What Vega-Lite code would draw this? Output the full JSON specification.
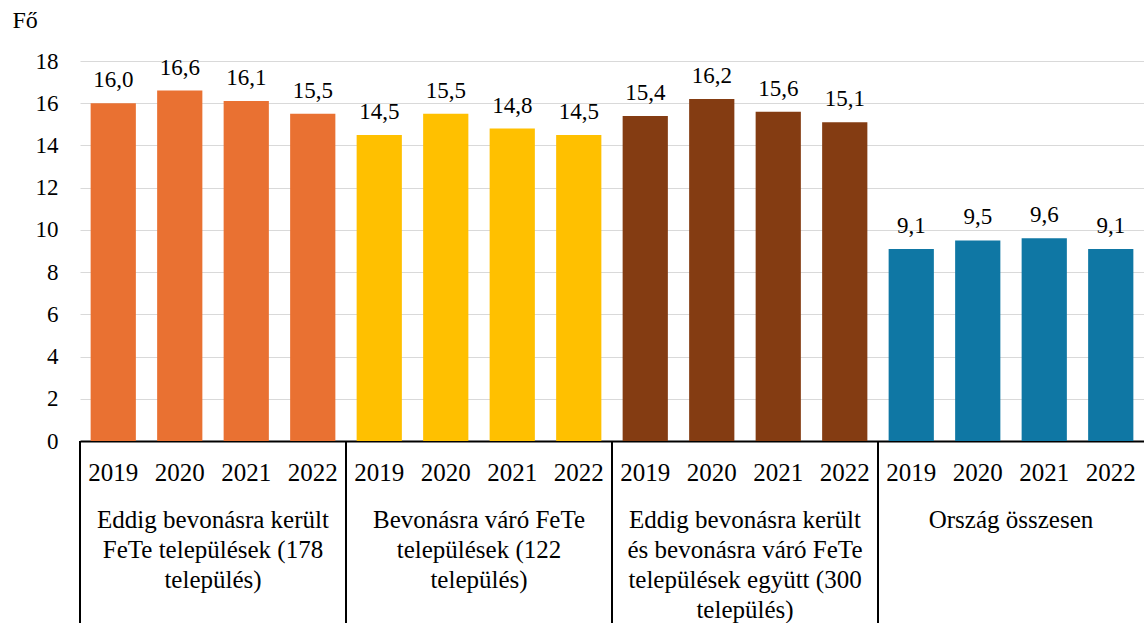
{
  "$schema": "https://vega.github.io/schema/vega-lite/v6.json",
  "width": 1064,
  "height": 380,
  "autosize": {"type": "none"},
  "padding": {"left": 80, "top": 61, "right": 0, "bottom": 182},
  "config": {
    "view": {"stroke": null},
    "font": "Times New Roman",
    "locale": {"number": {"decimal": ",", "thousands": " ", "grouping": [3], "currency": ["", " Ft"]}}
  },
  "datasets": {
    "bars": [
      {"csoport": "G1", "ev": "2019", "ertek": 16.0},
      {"csoport": "G1", "ev": "2020", "ertek": 16.6},
      {"csoport": "G1", "ev": "2021", "ertek": 16.1},
      {"csoport": "G1", "ev": "2022", "ertek": 15.5},
      {"csoport": "G2", "ev": "2019", "ertek": 14.5},
      {"csoport": "G2", "ev": "2020", "ertek": 15.5},
      {"csoport": "G2", "ev": "2021", "ertek": 14.8},
      {"csoport": "G2", "ev": "2022", "ertek": 14.5},
      {"csoport": "G3", "ev": "2019", "ertek": 15.4},
      {"csoport": "G3", "ev": "2020", "ertek": 16.2},
      {"csoport": "G3", "ev": "2021", "ertek": 15.6},
      {"csoport": "G3", "ev": "2022", "ertek": 15.1},
      {"csoport": "G4", "ev": "2019", "ertek": 9.1},
      {"csoport": "G4", "ev": "2020", "ertek": 9.5},
      {"csoport": "G4", "ev": "2021", "ertek": 9.6},
      {"csoport": "G4", "ev": "2022", "ertek": 9.1}
    ],
    "groups": [
      {"csoport": "G1", "nev": "Eddig bevonásra került\nFeTe települések (178\ntelepülés)"},
      {"csoport": "G2", "nev": "Bevonásra váró FeTe\ntelepülések (122\ntelepülés)"},
      {"csoport": "G3", "nev": "Eddig bevonásra került\nés bevonásra váró FeTe\ntelepülések együtt (300\ntelepülés)"},
      {"csoport": "G4", "nev": "Ország összesen"}
    ]
  },
  "layer": [
    {
      "data": {"name": "bars"},
      "mark": {"type": "bar"},
      "encoding": {
        "x": {
          "field": "csoport", "type": "nominal",
          "scale": {"domain": ["G1", "G2", "G3", "G4"], "paddingInner": 0, "paddingOuter": 0},
          "axis": {"labels": false, "ticks": false, "title": null, "domain": true, "domainColor": "#000000", "domainWidth": 2}
        },
        "xOffset": {
          "field": "ev", "type": "nominal",
          "scale": {"paddingInner": 0.32, "paddingOuter": 0.16}
        },
        "y": {
          "field": "ertek", "type": "quantitative",
          "scale": {"domain": [0, 18], "nice": false},
          "axis": {
            "values": [0, 2, 4, 6, 8, 10, 12, 14, 16, 18],
            "title": "Fő", "titleAngle": 0, "titleFont": "Times New Roman", "titleFontSize": 24, "titleFontWeight": "normal",
            "titleColor": "#000000", "titleAlign": "left", "titleBaseline": "alphabetic", "titleX": -68, "titleY": -34,
            "labelFont": "Times New Roman", "labelFontSize": 23, "labelColor": "#000000", "labelPadding": 22,
            "ticks": false, "domain": false,
            "grid": true, "gridColor": "#D9D9D9", "gridWidth": 1
          }
        },
        "color": {
          "field": "csoport", "type": "nominal",
          "scale": {"domain": ["G1", "G2", "G3", "G4"], "range": ["#E97132", "#FFC000", "#843C12", "#0F77A4"]},
          "legend": null
        }
      }
    },
    {
      "data": {"name": "bars"},
      "mark": {"type": "text", "baseline": "alphabetic", "dy": -16, "fontSize": 23, "font": "Times New Roman", "color": "#000000"},
      "encoding": {
        "x": {"field": "csoport", "type": "nominal"},
        "xOffset": {"field": "ev", "type": "nominal"},
        "y": {"field": "ertek", "type": "quantitative"},
        "text": {"field": "ertek", "type": "quantitative", "format": ".1f"}
      }
    },
    {
      "data": {"name": "bars"},
      "mark": {"type": "text", "baseline": "alphabetic", "fontSize": 25, "font": "Times New Roman", "color": "#000000", "clip": false},
      "encoding": {
        "x": {"field": "csoport", "type": "nominal"},
        "xOffset": {"field": "ev", "type": "nominal"},
        "y": {"datum": -1.89},
        "text": {"field": "ev", "type": "nominal"}
      }
    },
    {
      "data": {"name": "groups"},
      "mark": {"type": "text", "baseline": "alphabetic", "fontSize": 25, "font": "Times New Roman", "color": "#000000", "lineBreak": "\n", "lineHeight": 30, "clip": false},
      "encoding": {
        "x": {"field": "csoport", "type": "nominal"},
        "y": {"datum": -4.12},
        "text": {"field": "nev", "type": "nominal"}
      }
    },
    {
      "data": {"name": "groups"},
      "mark": {"type": "rule", "color": "#000000", "strokeWidth": 2, "clip": false},
      "encoding": {
        "x": {"field": "csoport", "type": "nominal", "bandPosition": 0},
        "y": {"datum": 0},
        "y2": {"datum": -9}
      }
    }
  ]
}
